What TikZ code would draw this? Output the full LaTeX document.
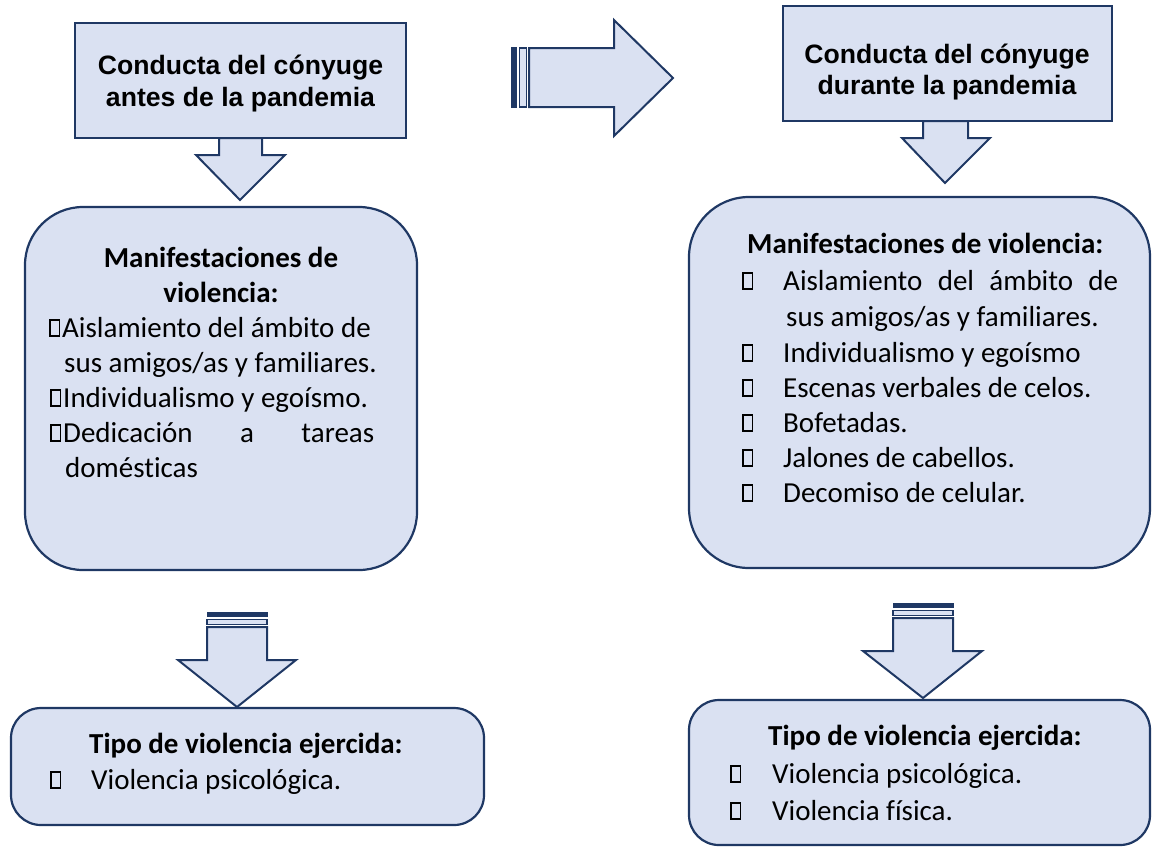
\documentclass[tikz,border=0pt]{standalone}
\usepackage{fontspec}
\setmainfont{Carlito}[Ligatures=NoCommon]
\newfontfamily\titlefont{Liberation Sans}
\definecolor{boxfill}{HTML}{DAE1F2}
\definecolor{boxline}{HTML}{1F3864}
\begin{document}
\begin{tikzpicture}[x=1pt,y=-1pt,
  box/.style={draw=boxline, fill=boxfill, line width=2.2pt, inner sep=0pt},
  arr/.style={draw=boxline, fill=boxfill, line width=2pt, line join=miter},
  barfill/.style={draw=boxline, fill=boxline, line width=1pt},
  barthin/.style={draw=boxline, fill=boxfill, line width=1.6pt},
  ttl/.style={font=\titlefont\bfseries\fontsize{26.6}{31}\selectfont, inner sep=0pt, anchor=base},
  hd/.style={font=\bfseries\fontsize{29}{35}\selectfont, inner sep=0pt},
  txt/.style={font=\fontsize{29}{35}\selectfont, inner sep=0pt, anchor=base west},
  bul/.style={draw=black, line width=1.7pt, minimum width=9.5pt, minimum height=16pt, inner sep=0pt, anchor=south west}]
\useasboundingbox (0,0) rectangle (1153,847);

% boxes
\node[box, minimum width=331pt, minimum height=115pt] (t1) at (240.5,80.5) {};
\node[box, minimum width=329pt, minimum height=115pt] (t2) at (947.5,63.5) {};
\node[box, rounded corners=58pt, minimum width=392pt, minimum height=363pt] (m1) at (221,388.5) {};
\node[box, rounded corners=60pt, minimum width=461pt, minimum height=371pt] (m2) at (919.5,382.5) {};
\node[box, rounded corners=30pt, minimum width=473pt, minimum height=117pt] (b1) at (247.5,766.5) {};
\node[box, rounded corners=30pt, minimum width=461pt, minimum height=145pt] (b2) at (919.5,772.5) {};

% down arrows from title boxes
\draw[arr] (219,138) -- (219,155) -- (196,155) -- (240,200) -- (285,155) -- (262,155) -- (262,138) -- cycle;
\draw[arr] (923,121) -- (923,138) -- (902,138) -- (945,183) -- (990,138) -- (968,138) -- (968,121) -- cycle;

% right arrow with bars
\draw[barfill] (511.5,47.5) rectangle (516.5,107.5);
\draw[barthin] (519.5,48) rectangle (526.5,107);
\draw[arr] (529,48) -- (614,48) -- (614,20) -- (673,78) -- (614,136) -- (614,107) -- (529,107) -- cycle;

% striped down arrows
\draw[barfill] (207,612.5) rectangle (267,616.5);
\draw[barthin] (207,619.5) rectangle (267,624.5);
\draw[arr] (207,627) -- (207,660) -- (178,660) -- (237,707) -- (296,660) -- (267,660) -- (267,627) -- cycle;
\draw[barfill] (893,603.5) rectangle (953,607.5);
\draw[barthin] (893,610.5) rectangle (953,615.5);
\draw[arr] (893,618) -- (893,651) -- (863,651) -- (923,698) -- (982,651) -- (953,651) -- (953,618) -- cycle;

% titles
\node[ttl] (t1a) at (240.5,74) {Conducta del cónyuge};
\node[ttl] (t1b) at (240.5,106) {antes de la pandemia};
\node[ttl] (t2a) at (947,63) {Conducta del cónyuge};
\node[ttl] (t2b) at (947,94) {durante la pandemia};

% left manifestations
\node[hd, anchor=base] (m1h1) at (221,267) {Manifestaciones de};
\node[hd, anchor=base] (m1h2) at (221,302) {violencia:};
\node[bul] (m1b1) at (49,337) {};
\node[txt] (m1l1) at (62,337) {Aislamiento del ámbito de};
\node[txt] (m1l2) at (64,372) {sus amigos/as y familiares.};
\node[bul] (m1b2) at (50,407) {};
\node[txt] (m1l3) at (63,407) {Individualismo y egoísmo.};
\node[bul] (m1b3) at (50,442) {};
\node[txt] (m1l4) at (63,442) {\hbox to 311pt{Dedicación\hfill a\hfill tareas}};
\node[txt] (m1l5) at (65,477) {domésticas};

% right manifestations
\node[hd, anchor=base west] (m2h) at (747,253) {Manifestaciones de violencia:};
\node[bul] (m2b1) at (742,290) {};
\node[txt] (m2l1) at (783,290) {\makebox[335pt][s]{Aislamiento del ámbito de}};
\node[txt] (m2l2) at (786,326) {sus amigos/as y familiares.};
\node[bul] (m2b2) at (742,362) {};
\node[txt] (m2l3) at (783,362) {Individualismo y egoísmo};
\node[bul] (m2b3) at (742,397) {};
\node[txt] (m2l4) at (783,397) {Escenas verbales de celos.};
\node[bul] (m2b4) at (742,432) {};
\node[txt] (m2l5) at (783,432) {Bofetadas.};
\node[bul] (m2b5) at (742,467) {};
\node[txt] (m2l6) at (783,467) {Jalones de cabellos.};
\node[bul] (m2b6) at (742,502) {};
\node[txt] (m2l7) at (783,502) {Decomiso de celular.};

% bottom left
\node[hd, anchor=base west] (b1h) at (89,753) {Tipo de violencia ejercida:};
\node[bul] (b1b1) at (50,789) {};
\node[txt] (b1l1) at (91,789) {Violencia psicológica.};

% bottom right
\node[hd, anchor=base west] (b2h) at (768,745) {Tipo de violencia ejercida:};
\node[bul] (b2b1) at (730,783) {};
\node[txt] (b2l1) at (772,783) {Violencia psicológica.};
\node[bul] (b2b2) at (730,820) {};
\node[txt] (b2l2) at (772,820) {Violencia física.};
\end{tikzpicture}
\end{document}
